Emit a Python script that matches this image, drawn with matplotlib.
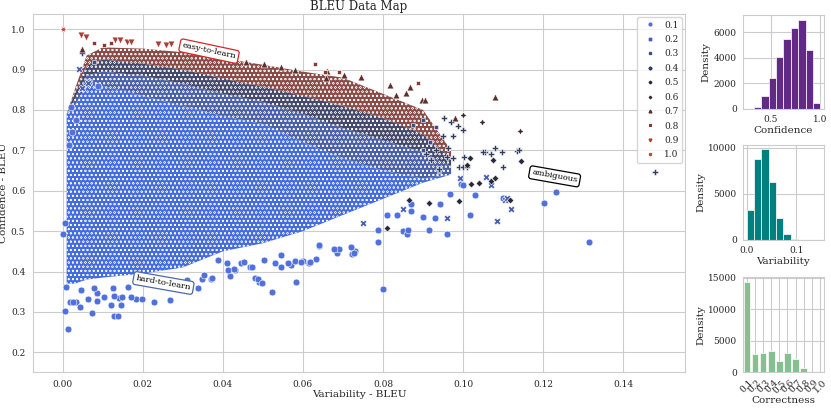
import numpy as np
import matplotlib.pyplot as plt
import seaborn as sns
from matplotlib.lines import Line2D

# correctness levels used for hue and marker style
levels = ['0.1', '0.2', '0.3', '0.4', '0.5', '0.6', '0.7', '0.8', '0.9', '1.0']

# dense body of the data map (variability grid, confidence envelopes)
vx = [0.001, 0.003, 0.006, 0.010, 0.020, 0.030, 0.040, 0.050, 0.060, 0.070, 0.080, 0.090, 0.097]
blue_lo = [0.37, 0.37, 0.38, 0.385, 0.395, 0.41, 0.45, 0.47, 0.50, 0.54, 0.58, 0.62, 0.64]
blue_hi = [0.79, 0.81, 0.86, 0.86, 0.835, 0.81, 0.785, 0.765, 0.72, 0.68, 0.65, 0.63, 0.64]
mix_hi = [0.79, 0.825, 0.885, 0.895, 0.885, 0.865, 0.84, 0.82, 0.79, 0.755, 0.725, 0.695, 0.66]
dark_hi = [0.79, 0.84, 0.91, 0.925, 0.915, 0.90, 0.878, 0.858, 0.835, 0.81, 0.78, 0.74, 0.68]
top = [0.79, 0.85, 0.935, 0.955, 0.952, 0.943, 0.928, 0.912, 0.895, 0.88, 0.84, 0.80, 0.70]

v01 = [0.0, 0.0006, 0.0013, 0.0018, 0.0033, 0.0043, 0.0073, 0.0087, 0.012, 0.0128, 0.0138, 0.0145,
       0.014, 0.0182, 0.0228, 0.0268, 0.0337, 0.0349, 0.037, 0.0417, 0.043, 0.0468, 0.048, 0.049,
       0.0487, 0.0497, 0.0524, 0.053, 0.0545, 0.057, 0.0581, 0.0582, 0.060, 0.0614, 0.0633, 0.064,
       0.0685, 0.069, 0.0722, 0.073, 0.0787, 0.0787, 0.0799, 0.081, 0.0836, 0.085, 0.086, 0.0862,
       0.087, 0.087, 0.090, 0.0916, 0.093, 0.0943, 0.096, 0.0968, 0.0995, 0.100, 0.1016, 0.103,
       0.110, 0.1203, 0.1233, 0.1315, 0.002, 0.0033, 0.0024, 0.0017, 0.0066, 0.0088, 0.0005,
       0.00075, 0.0025, 0.0063, 0.0087, 0.0103, 0.0128, 0.0149, 0.017, 0.0199, 0.0045, 0.0078,
       0.0125, 0.0162, 0.031, 0.0353, 0.0373, 0.0412, 0.0428, 0.0445, 0.0474, 0.0562, 0.0595,
       0.0617, 0.064, 0.0678, 0.072, 0.0727, 0.0545, 0.0503, 0.0453, 0.0387, 0.041]
c01 = [0.494, 0.303, 0.257, 0.324, 0.324, 0.313, 0.298, 0.327, 0.316, 0.290, 0.290, 0.316,
       0.335, 0.331, 0.324, 0.329, 0.360, 0.382, 0.382, 0.389, 0.404, 0.41, 0.383, 0.373,
       0.381, 0.372, 0.350, 0.42, 0.41, 0.416, 0.427, 0.373, 0.427, 0.422, 0.43, 0.464,
       0.447, 0.455, 0.443, 0.451, 0.473, 0.502, 0.356, 0.539, 0.540, 0.50, 0.492, 0.504,
       0.549, 0.566, 0.535, 0.502, 0.533, 0.566, 0.494, 0.593, 0.617, 0.614, 0.540, 0.589,
       0.581, 0.570, 0.597, 0.473, 0.808, 0.775, 0.746, 0.713, 0.87, 0.86, 0.52,
       0.361, 0.325, 0.333, 0.346, 0.337, 0.340, 0.337, 0.337, 0.333, 0.354, 0.358,
       0.358, 0.362, 0.379, 0.391, 0.385, 0.403, 0.407, 0.421, 0.412, 0.42, 0.424,
       0.424, 0.465, 0.457, 0.46, 0.445, 0.44, 0.428, 0.424, 0.428, 0.42]
v02 = [0.0040, 0.0049, 0.0063, 0.075, 0.085, 0.096, 0.0993, 0.1058, 0.107, 0.1084, 0.1105, 0.112, 0.111]
c02 = [0.902, 0.855, 0.866, 0.521, 0.556, 0.533, 0.632, 0.635, 0.615, 0.526, 0.577, 0.554, 0.583]
v03 = [0.0078, 0.094, 0.090, 0.0933, 0.0900, 0.0875, 0.0917]
c03 = [0.92, 0.65, 0.70, 0.757, 0.776, 0.764, 0.72]
v04 = [0.0049, 0.092, 0.094, 0.096, 0.0975, 0.099, 0.100, 0.1003, 0.101, 0.1055, 0.105, 0.107,
       0.108, 0.1097, 0.110, 0.1135, 0.114, 0.148, 0.100, 0.0953, 0.097, 0.0988, 0.095,
       0.0975, 0.0963, 0.0933, 0.0908]
c04 = [0.94, 0.677, 0.654, 0.684, 0.680, 0.66, 0.66, 0.684, 0.66, 0.697, 0.696, 0.69,
       0.705, 0.696, 0.658, 0.698, 0.70, 0.647, 0.75, 0.779, 0.77, 0.76, 0.735,
       0.735, 0.705, 0.70, 0.69]
v05 = [0.081, 0.0865, 0.0915, 0.099, 0.101, 0.1017, 0.102, 0.104, 0.107, 0.1075, 0.108, 0.1117, 0.1145]
c05 = [0.509, 0.578, 0.569, 0.575, 0.664, 0.68, 0.616, 0.62, 0.623, 0.677, 0.632, 0.578, 0.673]
v06 = [0.1048, 0.1143, 0.100]
c06 = [0.77, 0.747, 0.787]
v07 = [0.0048, 0.0458, 0.0502, 0.0545, 0.058, 0.0658, 0.0703, 0.0746, 0.0818, 0.0833, 0.0858,
       0.0868, 0.0898, 0.0904, 0.098, 0.1079, 0.066]
c07 = [0.952, 0.919, 0.915, 0.906, 0.90, 0.88, 0.886, 0.881, 0.861, 0.837, 0.841,
       0.858, 0.825, 0.825, 0.78, 0.832, 0.897]
v08 = [0.063, 0.0655, 0.069, 0.0888, 0.0078, 0.0103, 0.012]
c08 = [0.913, 0.893, 0.893, 0.867, 0.965, 0.96, 0.966]
v09 = [0.0047, 0.0059, 0.013, 0.0143, 0.016, 0.017, 0.0237, 0.0258, 0.027]
c09 = [0.985, 0.981, 0.973, 0.973, 0.969, 0.969, 0.963, 0.961, 0.963]
v10 = [0.0]
c10 = [1.0]

# histograms on the right
conf_edges = [0.255, 0.330, 0.404, 0.479, 0.553, 0.628, 0.702, 0.777, 0.851, 0.926, 1.0]
conf_counts = [5, 180, 1000, 2450, 4020, 5450, 6320, 6980, 4600, 460]
var_edges = [0.0, 0.0148, 0.0296, 0.0444, 0.0592, 0.074, 0.0888, 0.1036, 0.1184, 0.1332, 0.148]
var_counts = [3250, 8740, 9800, 6320, 2420, 650, 145, 20, 5, 2]
corr_counts = [14400, 2890, 3100, 3320, 1820, 3100, 2040, 590, 25, 3]

sns.set_style('whitegrid')
plt.rcParams['font.family'] = ['DejaVu Serif']
plt.rcParams['hatch.linewidth'] = 0.3

pal = sns.diverging_palette(260, 15, n=10, sep=10, center='dark')
markers = ['o', 'X', (4, 0, 45), 'P', (4, 0, 0), (4, 1, 0), '^', (4, 1, 45), 'v', (6, 1, 30)]

fig = plt.figure(figsize=(8.31, 4.08), dpi=100)
ax0 = fig.add_axes([0.0397, 0.088, 0.7846, 0.877])

# dense body, hatched in white to mimic the packed marker edges
bands = [(blue_lo, blue_hi, '#456cdd'), (blue_hi, mix_hi, '#4a60a8'),
         (mix_hi, dark_hi, '#454a6c'), (dark_hi, top, '#8a4c48')]
for lo, hi, col in bands:
    ax0.fill_between(vx, lo, hi, facecolor=col, edgecolor='white', hatch='oooo', lw=0)

sparse = [(v01, c01), (v02, c02), (v03, c03), (v04, c04), (v05, c05),
          (v06, c06), (v07, c07), (v08, c08), (v09, c09), (v10, c10)]
for i, (vs, cs) in enumerate(sparse):
    ax0.scatter(vs, cs, s=24, marker=markers[i], color=pal[i], edgecolor='white', linewidth=0.4, zorder=3)

ax0.set_xlim(-0.0074, 0.1554)
ax0.set_ylim(0.151, 1.037)
ax0.set_xticks(np.arange(0, 0.141, 0.02))
ax0.set_xticklabels([f'{t:.2f}' for t in np.arange(0, 0.141, 0.02)])
ax0.set_yticks(np.arange(0.2, 1.01, 0.1))
ax0.set_yticklabels([f'{t:.1f}' for t in np.arange(0.2, 1.01, 0.1)])
ax0.tick_params(labelsize=6.5, pad=2)
ax0.set_xlabel('Variability - BLEU', fontsize=7.5, labelpad=1)
ax0.set_ylabel('Confidence - BLEU', fontsize=7.5, labelpad=2)
ax0.set_title('BLEU Data Map', fontsize=8.5, pad=3)

bb = lambda c: dict(boxstyle='round,pad=0.3', ec=c, lw=0.9, fc='white')
ax0.annotate('ambiguous', xy=(0.80, 0.547), xycoords='axes fraction', fontsize=6, color='black',
             va='center', ha='center', rotation=350, bbox=bb('black'), zorder=5)
ax0.annotate('easy-to-learn', xy=(0.27, 0.897), xycoords='axes fraction', fontsize=6, color='black',
             va='center', ha='center', rotation=348, bbox=bb('#d62728'), zorder=5)
ax0.annotate('hard-to-learn', xy=(0.20, 0.249), xycoords='axes fraction', fontsize=6, color='black',
             va='center', ha='center', rotation=350, bbox=bb('#4a6aa8'), zorder=5)

handles = [Line2D([], [], marker=markers[i], color=pal[i], linestyle='none', markersize=2)
           for i in range(len(levels))]
ax0.legend(handles, levels, loc='upper right', fontsize=6.5, labelspacing=0.6,
           borderaxespad=0.3, handletextpad=0.6, frameon=True)

# confidence histogram
ax1 = fig.add_axes([0.894, 0.733, 0.0975, 0.230])
ax1.bar(conf_edges[:-1], conf_counts, width=np.diff(conf_edges), align='edge',
        color='#622a87', edgecolor='white', linewidth=0.5)
ax1.set_xticks([0.5, 1.0])
ax1.set_yticks([0, 2000, 4000, 6000])
ax1.set_xlabel('Confidence', fontsize=7.5, labelpad=1)
ax1.set_ylabel('Density', fontsize=7.5, labelpad=2)
ax1.tick_params(labelsize=6.5, pad=1)

# variability histogram
ax2 = fig.add_axes([0.894, 0.412, 0.0975, 0.233])
ax2.bar(var_edges[:-1], var_counts, width=np.diff(var_edges), align='edge',
        color='teal', edgecolor='white', linewidth=0.5)
ax2.set_xlim(-0.0074, 0.1554)
ax2.set_xticks([0.0, 0.1])
ax2.set_yticks([0, 5000, 10000])
ax2.set_xlabel('Variability', fontsize=7.5, labelpad=1)
ax2.set_ylabel('Density', fontsize=7.5, labelpad=2)
ax2.tick_params(labelsize=6.5, pad=1)

# correctness histogram
ax3 = fig.add_axes([0.894, 0.088, 0.0975, 0.233])
ax3.bar(range(len(levels)), corr_counts, width=0.8, color='#86bf91', edgecolor='white', linewidth=0.5)
ax3.set_xlim(-0.5, len(levels) - 0.5)
ax3.set_xticks(range(len(levels)))
ax3.set_xticklabels(levels, rotation=45)
ax3.set_yticks([0, 5000, 10000, 15000])
ax3.set_xlabel('Correctness', fontsize=7.5, labelpad=1)
ax3.set_ylabel('Density', fontsize=7.5, labelpad=2)
ax3.tick_params(labelsize=6.5, pad=1)

plt.savefig('out.png', dpi=100)
